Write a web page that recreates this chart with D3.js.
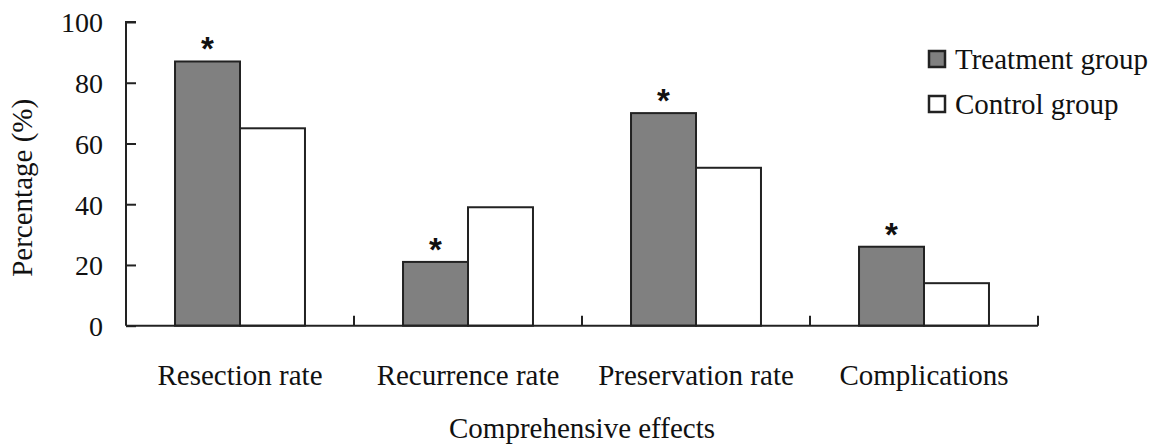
<!DOCTYPE html>
<html>
<head>
<meta charset="utf-8">
<script src="https://cdn.jsdelivr.net/npm/d3@7"></script>
<style>
  body { margin: 0; background: #fff; }
  svg text { font-family: "Liberation Serif", "Times New Roman", serif; fill: #111; }
</style>
</head>
<body>
<svg id="chart" width="1151" height="444"></svg>
<script>
"use strict";

const categories = ["Resection rate", "Recurrence rate", "Preservation rate", "Complications"];
const seriesNames = ["Treatment group", "Control group"];
const treatmentValues = [87, 21, 70, 26];
const controlValues = [65, 39, 52, 14];
const significant = [true, true, true, true];
const yTicks = [0, 20, 40, 60, 80, 100];

const margin = {left: 126, right: 113, top: 22, bottom: 118};
const width = 1151, height = 444;
const svg = d3.select("#chart");

const x = d3.scaleBand()
  .domain(categories)
  .range([margin.left, width - margin.right])
  .paddingInner(0.43)
  .paddingOuter(0.215);

const sub = d3.scaleBand()
  .domain(seriesNames)
  .range([0, x.bandwidth()]);

const y = d3.scaleLinear()
  .domain([0, 100])
  .range([height - margin.bottom - 0.3, margin.top]);

const fills = {"Treatment group": "#808080", "Control group": "#ffffff"};

const rows = categories.map(function(c, i){
  return {cat: c, vals: [
    {name: seriesNames[0], v: treatmentValues[i]},
    {name: seriesNames[1], v: controlValues[i]}
  ], star: significant[i]};
});

// bars
const groups = svg.selectAll("g.grp")
  .data(rows)
  .enter()
  .append("g")
  .attr("class", "grp")
  .attr("transform", function(d){ return "translate(" + x(d.cat) + ",0)"; });

groups.selectAll("rect")
  .data(function(d){ return d.vals; })
  .enter()
  .append("rect")
  .attr("x", function(d){ return sub(d.name); })
  .attr("y", function(d){ return y(d.v); })
  .attr("width", sub.bandwidth())
  .attr("height", function(d){ return y(0) - y(d.v); })
  .attr("fill", function(d){ return fills[d.name]; })
  .attr("stroke", "#222")
  .attr("stroke-width", 2);

groups.filter(function(d){ return d.star; })
  .append("text")
  .attr("x", sub(seriesNames[0]) + sub.bandwidth() / 2)
  .attr("y", function(d){ return y(d.vals[0].v) - 1; })
  .attr("text-anchor", "middle")
  .style("font-family", "Liberation Sans, Arial, sans-serif")
  .style("font-size", "33px")
  .style("font-weight", "bold")
  .text("*");

// y axis
const yAxis = svg.append("g")
  .attr("transform", "translate(" + margin.left + ",0)")
  .call(d3.axisRight(y).tickValues(yTicks).tickSize(10).tickFormat(d3.format("d")));
yAxis.select(".domain").attr("stroke", "#222").attr("stroke-width", 2)
  .attr("d", "M10," + y(100) + "H0V" + y(0));
yAxis.selectAll(".tick line").attr("stroke", "#222").attr("stroke-width", 2);
yAxis.selectAll(".tick text")
  .attr("x", -23)
  .attr("dy", "0.35em")
  .attr("text-anchor", "end")
  .style("font-size", "28px");

// x axis with ticks at category boundaries
const x0 = margin.left, x1 = width - margin.right;
const boundaries = categories.map(function(c){ return x(c) + x.bandwidth() / 2 + x.step() / 2; });
svg.append("line")
  .attr("x1", x0).attr("x2", x1)
  .attr("y1", y(0)).attr("y2", y(0))
  .attr("stroke", "#222").attr("stroke-width", 2);
svg.selectAll("line.xt")
  .data(boundaries)
  .enter()
  .append("line")
  .attr("class", "xt")
  .attr("x1", function(d){ return d; }).attr("x2", function(d){ return d; })
  .attr("y1", y(0)).attr("y2", y(0) - 10)
  .attr("stroke", "#222").attr("stroke-width", 2);

svg.selectAll("text.xl")
  .data(categories)
  .enter()
  .append("text")
  .attr("class", "xl")
  .attr("x", function(d){ return x(d) + x.bandwidth() / 2; })
  .attr("y", 385)
  .attr("text-anchor", "middle")
  .style("font-size", "29px")
  .text(function(d){ return d; });

// axis titles
svg.append("text")
  .attr("x", (x0 + x1) / 2)
  .attr("y", 438)
  .attr("text-anchor", "middle")
  .style("font-size", "29px")
  .text("Comprehensive effects");

svg.append("text")
  .attr("transform", "translate(32," + ((y(0) + y(100)) / 2 + 14) + ") rotate(-90)")
  .attr("text-anchor", "middle")
  .style("font-size", "29px")
  .text("Percentage (%)");

// legend
const legend = svg.selectAll("g.leg")
  .data(seriesNames)
  .enter()
  .append("g")
  .attr("class", "leg")
  .attr("transform", function(d, i){ return "translate(929," + (51 + i * 45) + ")"; });
legend.append("rect")
  .attr("width", 16).attr("height", 16)
  .attr("fill", function(d){ return fills[d]; })
  .attr("stroke", "#222").attr("stroke-width", 2.5);
legend.append("text")
  .attr("x", 26).attr("y", 18)
  .style("font-size", "29px")
  .text(function(d){ return d; });
</script>
</body>
</html>
